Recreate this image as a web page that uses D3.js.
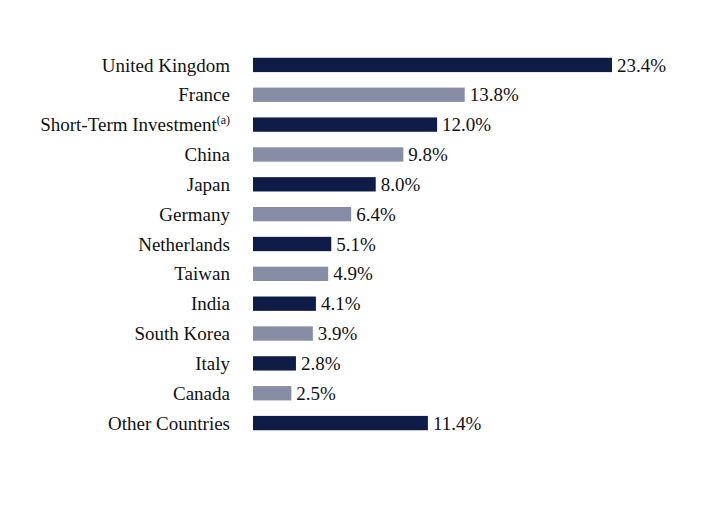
<!DOCTYPE html>
<html><head><meta charset="utf-8">
<script src="https://cdn.jsdelivr.net/npm/d3@7"></script>
<style>body{margin:0;background:#fff}</style></head>
<body><svg id="chart" width="708" height="516"></svg>
<script>
const countries = ['United Kingdom','France','Short-Term Investment','China','Japan','Germany','Netherlands','Taiwan','India','South Korea','Italy','Canada','Other Countries'];
const values = [23.4,13.8,12.0,9.8,8.0,6.4,5.1,4.9,4.1,3.9,2.8,2.5,11.4];
const colors = ['#0e1c47','#878da4'];

const svg = d3.select('#chart');
const x = d3.scaleLinear().domain([0, 23.4]).range([253, 612]);
const y = d3.scaleBand().domain(countries).range([50, 438]).paddingInner(0.52).paddingOuter(0.26);
const font = '"Liberation Serif","Times New Roman",serif';

svg.selectAll('rect').data(values).join('rect')
  .attr('x', x(0))
  .attr('y', (d, i) => y(countries[i]))
  .attr('width', d => x(d) - x(0))
  .attr('height', y.bandwidth())
  .attr('fill', (d, i) => colors[i % 2]);

svg.selectAll('text.val').data(values).join('text')
  .attr('class', 'val')
  .attr('x', d => x(d) + 5)
  .attr('y', (d, i) => y(countries[i]) + y.bandwidth() / 2)
  .attr('dy', '0.35em')
  .attr('font-family', font).attr('font-size', 19).attr('fill', '#111')
  .text(d => d.toFixed(1) + '%');

const lab = svg.selectAll('text.lab').data(countries).join('text')
  .attr('class', 'lab')
  .attr('x', 230)
  .attr('y', d => y(d) + y.bandwidth() / 2)
  .attr('dy', '0.35em')
  .attr('text-anchor', 'end')
  .attr('font-family', font).attr('font-size', 19).attr('fill', '#111')
  .text(d => d);
lab.filter(d => d === 'Short-Term Investment')
  .append('tspan').attr('font-size', 12).attr('dy', '-0.6em').text('(a)');
</script></body></html>
